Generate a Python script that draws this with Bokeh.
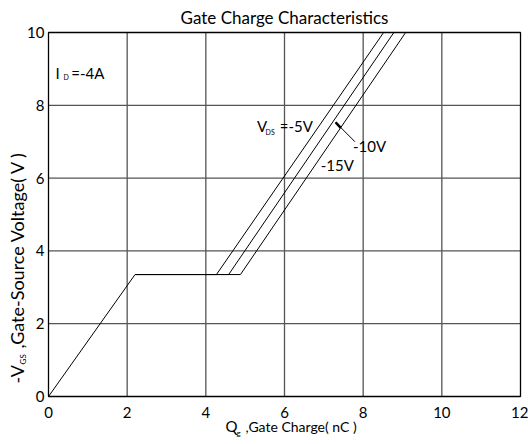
from bokeh.plotting import figure
from bokeh.models import Range1d, Label, FixedTicker
from bokeh.embed import file_html
from bokeh.resources import INLINE
import math

# ---- data ----
vds_labels = ["-5V", "-10V", "-15V"]
q_rise_end = 2.2          # nC, end of linear rise
v_plateau = 3.35          # V, Miller plateau
q_plateau_end = [4.27, 4.58, 4.88]   # nC, end of plateau per VDS
q_at_10v = [8.52, 8.78, 9.08]        # nC where curve reaches 10 V
x_ticks = [0, 2, 4, 6, 8, 10, 12]
y_ticks = [0, 2, 4, 6, 8, 10]

FONT = "Lato, sans-serif"

W, H = 528, 444
# plot area in pixels: x 48..520, y 32..396 (from top)
xs = 12 / (520 - 48)
ys = 10 / (396 - 32)
x_range = Range1d(-48 * xs, 12 + (W - 520) * xs)
y_range = Range1d(-(H - 396) * ys, 10 + 32 * ys)

p = figure(width=W, height=H, output_backend="svg", toolbar_location=None,
           x_range=x_range, y_range=y_range, title=None,
           min_border_left=0, min_border_right=0, min_border_top=0, min_border_bottom=0)
p.outline_line_color = None
p.background_fill_color = "white"
p.border_fill_color = "white"
p.xgrid.visible = False
p.ygrid.visible = False

for ax, ticks in ((p.xaxis, x_ticks), (p.yaxis, y_ticks)):
    ax.ticker = FixedTicker(ticks=ticks)
    ax.fixed_location = 0
    ax.major_label_text_font = FONT
    ax.major_label_text_font_size = "15px"
    ax.major_label_text_color = "black"
    ax.axis_line_color = None
    ax.major_tick_line_color = None
    ax.minor_tick_line_color = None
p.xaxis.major_label_standoff = 4
p.yaxis.major_label_standoff = -2

# grid (inner lines grey, border black)
p.segment(x0=x_ticks[1:-1], y0=y_ticks[0], x1=x_ticks[1:-1], y1=y_ticks[-1],
          line_color="#555555", line_width=1.3)
p.segment(x0=x_ticks[0], y0=y_ticks[1:-1], x1=x_ticks[-1], y1=y_ticks[1:-1],
          line_color="#555555", line_width=1.3)
p.quad(left=x_ticks[0], right=x_ticks[-1], bottom=y_ticks[0], top=y_ticks[-1],
       fill_color=None, line_color="black", line_width=1.3)

# shared linear rise
p.line([0, q_rise_end], [0, v_plateau], line_color="black", line_width=1)
for qe, q10 in zip(q_plateau_end, q_at_10v):
    p.line([q_rise_end, qe, q10], [v_plateau, v_plateau, 10],
           line_color="black", line_width=1)

# leader line for -10V label
p.line([7.30, 7.79], [7.53, 7.0], line_color="black", line_width=1)
p.line([7.30, 7.43], [7.53, 7.38], line_color="black", line_width=2.5)

def lab(x, y, t, size="14px", angle=0, align="left"):
    p.add_layout(Label(x=x, y=y, text=t, text_font=FONT, text_font_size=size,
                       angle=angle, text_align=align, text_baseline="middle",
                       text_color="black"))

# title
lab(6.0, 10.42, "Gate Charge Characteristics", size="17px", align="center")

# I_D = -4A
lab(0.18, 8.9, "I", size="15px")
lab(0.38, 8.78, "D", size="7px")
lab(0.58, 8.9, "=-4A", size="15px")
# V_DS = -5V
lab(5.30, 7.42, "V", size="15px")
lab(5.52, 7.28, "DS", size="7px")
lab(5.88, 7.42, "=-5V", size="15px")
lab(7.74, 6.87, vds_labels[1], size="15px")
lab(6.92, 6.37, vds_labels[2], size="15px")

# x axis title
lab(4.50, -0.82, "Q", size="15px")
lab(4.78, -1.0, "g", size="8px")
lab(5.01, -0.82, ",Gate Charge( nC )", size="14px")

# y axis title (rotated)
lab(-0.79, 0.36, "-V", angle=math.pi / 2, size="18px")
lab(-0.66, 0.88, "GS", angle=math.pi / 2, size="8px")
lab(-0.79, 1.32, ",Gate-Source Voltage( V )", angle=math.pi / 2, size="18px")

open("out.html", "w").write(file_html(p, INLINE))
